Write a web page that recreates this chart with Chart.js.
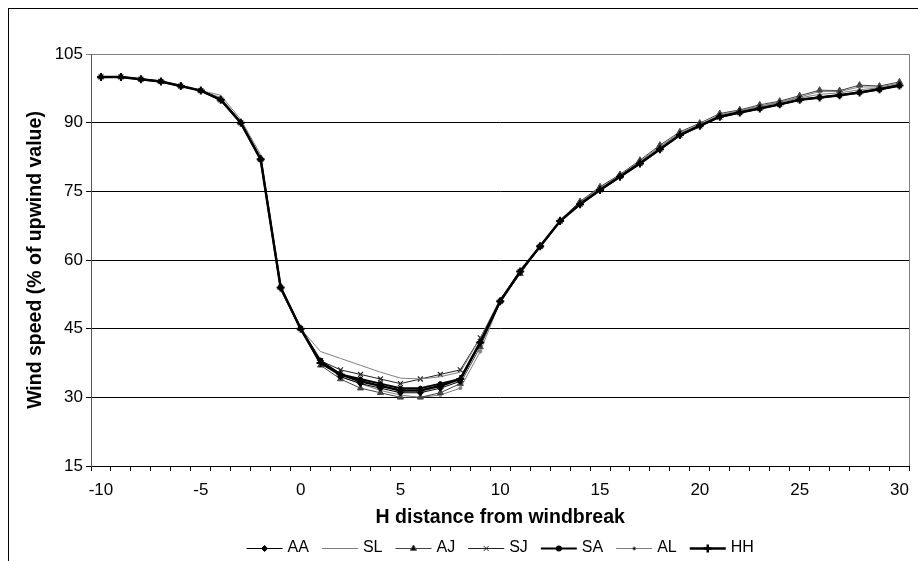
<!DOCTYPE html>
<html>
<head>
<meta charset="utf-8">
<script src="https://cdn.jsdelivr.net/npm/chart.js@4/dist/chart.umd.min.js"></script>
<style>
  html, body { margin: 0; padding: 0; background: #fff; }
  #wrap { width: 918px; height: 561px; position: relative; }
</style>
</head>
<body>
<div id="wrap"><canvas id="c" width="918" height="561"></canvas></div>
<script>
// ---- data ----
const distances = [-10,-9,-8,-7,-6,-5,-4,-3,-2,-1,0,1,2,3,4,5,6,7,8,9,10,11,12,13,14,15,16,17,18,19,20,21,22,23,24,25,26,27,28,29,30];
const seriesNames = ["AA","SL","AJ","SJ","SA","AL","HH"];
const yTicks = [15,30,45,60,75,90,105];
const xLabelEvery = 5;

const AA = [100,100,99.5,99,98,97,95,90,82,54,45, 38,34.5,33,32,31,31,32,33.5,42, 51,57.5,63,68.5,72.2,75.3,78.2,81.1,84.2,87.3,89.3,91.3,92.2,93.1,94,95,95.5,96,96.6,97.3,98.1];
const SL = [100,100,99.5,99,98,97,96,90.7,83,53.5,45, 40,38.5,37,35.5,34.2,34,34.5,35.5,43, 51.5,57,63,68.5,72.5,75.5,78.5,81.5,84.7,87.7,89.6,91.5,92.5,93.5,94.4,95.4,96.2,96.5,97.2,97.6,98.4];
const AJ = [100,100,99.5,99,98,97,95,90,82,54,45, 37,34,32,31,30,30,31,33,41, 51,57,63,68.7,72.8,76,78.7,81.8,85.1,88,89.9,92,92.8,93.9,94.7,95.9,97.1,97,98.2,98,98.9];
const SJ = [100,100,99.5,99,98,97,95,90,82,54,45, 38,36,35,34,33,34,35,36,43, 51,57.5,63,68.5,72.2,75.3,78.2,81.1,84.2,87.3,89.3,91.2,92.2,93.1,94,95,95.6,96,96.6,97.3,98.1];
const SA = [100,100,99.5,99,98,97,95,90,82,54,45, 38,35,34,33,32,32,33,34,42, 51,57.5,63,68.5,72.2,75.3,78.2,81.1,84.2,87.3,89.3,91.3,92.2,93.1,94,95,95.5,96,96.6,97.3,98.1];
const AL = [100,100,99.5,99,98,97,95.5,90.3,82.5,53.5,45, 37.5,34.5,33,31.5,30.5,30,30.5,32,40, 51,57,63,68.6,72.6,75.8,78.5,81.5,84.8,87.7,89.6,91.7,92.6,93.6,94.5,95.6,96.8,96.8,97.8,97.8,98.6];
const HH = [100,100,99.5,99,98,97,95,90,82,54,45, 37.5,35,33.5,32.5,31.5,31.5,32.5,34,42, 51,57.5,63,68.5,72.2,75.3,78.2,81.1,84.2,87.3,89.3,91.3,92.2,93.1,94,95,95.5,96,96.6,97.3,98.1];

const FONT = 'Arial, "Liberation Sans", sans-serif';
const GREY = '#808080';

const styles = {
  AA: {color:'#000', width:1, point:'rectRot', r:3, pw:1},
  SL: {color:GREY, width:1, point:false, r:0, pw:1},
  AJ: {color:'#444', width:1, point:'triangle', r:3.5, pw:1},
  SJ: {color:'#222', width:1, point:'crossRot', r:3.5, pw:1.2},
  SA: {color:'#000', width:2, point:'circle', r:2, pw:1},
  AL: {color:GREY, width:1, point:'circle', r:1.5, pw:1},
  HH: {color:'#000', width:2.5, point:'cross', r:4, pw:2}
};
const values = {AA, SL, AJ, SJ, SA, AL, HH};

const datasets = seriesNames.map(n => {
  const s = styles[n];
  return {
    label: n,
    data: values[n],
    borderColor: s.color,
    backgroundColor: s.color,
    borderWidth: s.width,
    pointStyle: s.point,
    pointRadius: s.r,
    pointBorderWidth: s.pw,
    pointBorderColor: s.color,
    pointBackgroundColor: s.color,
    tension: 0,
    fill: false,
    order: n === 'HH' ? 0 : (n === 'SA' ? 1 : 2)
  };
});

const framePlugin = {
  id: 'frame',
  beforeDraw(chart) {
    const ctx = chart.ctx;
    ctx.save();
    ctx.fillStyle = '#fff';
    ctx.fillRect(0, 0, chart.width, chart.height);
    ctx.strokeStyle = '#000';
    ctx.lineWidth = 1;
    ctx.strokeRect(8.5, 8.5, 1000, 1000);
    ctx.restore();
  },
  beforeDatasetsDraw(chart) {
    const {ctx, chartArea: a} = chart;
    ctx.save();
    ctx.strokeStyle = GREY;
    ctx.lineWidth = 1;
    ctx.beginPath();
    ctx.moveTo(Math.round(a.right) + 0.5, a.top);
    ctx.lineTo(Math.round(a.right) + 0.5, a.bottom);
    ctx.stroke();
    ctx.restore();
  },
  afterDraw(chart) {
    // legend: line sample with marker, then text
    const ctx = chart.ctx;
    ctx.save();
    ctx.font = '16px ' + FONT;
    ctx.textBaseline = 'middle';
    const lineLen = 36, gap = 5, itemGap = 13;
    const widths = seriesNames.map(n => ctx.measureText(n).width);
    let total = 0;
    seriesNames.forEach((n, i) => { total += lineLen + gap + widths[i] + (i < seriesNames.length - 1 ? itemGap : 0); });
    const cx = (chart.chartArea.left + chart.chartArea.right) / 2;
    let x = cx - total / 2;
    const y = 548;
    seriesNames.forEach((n, i) => {
      const s = styles[n];
      ctx.strokeStyle = s.color;
      ctx.lineWidth = s.width;
      ctx.beginPath();
      ctx.moveTo(x, y + 0.5);
      ctx.lineTo(x + lineLen, y + 0.5);
      ctx.stroke();
      if (s.point) {
        Chart.helpers.drawPoint(ctx, {
          pointStyle: s.point, radius: s.r, borderWidth: s.pw, rotation: 0
        }, x + lineLen / 2, y + 0.5);
        ctx.fillStyle = s.color; ctx.strokeStyle = s.color;
      }
      ctx.fillStyle = '#000';
      ctx.fillText(n, x + lineLen + gap, y);
      x += lineLen + gap + widths[i] + itemGap;
    });
    ctx.restore();
  }
};

// patch drawPoint colors for legend
const origDraw = Chart.helpers.drawPoint;

new Chart(document.getElementById('c'), {
  type: 'line',
  data: { labels: distances.map(String), datasets },
  options: {
    responsive: false,
    animation: false,
    devicePixelRatio: 1,
    layout: { padding: { left: 0, right: 3, top: 54, bottom: 0 } },
    plugins: { legend: { display: false }, tooltip: { enabled: false } },
    scales: {
      x: {
        type: 'category',
        offset: true,
        grid: { offset: true, drawOnChartArea: false, drawTicks: true, tickLength: 5, color: '#000', lineWidth: 1 },
        border: { color: '#000', width: 1 },
        ticks: {
          autoSkip: false, maxRotation: 0, minRotation: 0, padding: 9,
          color: '#000', font: { family: FONT, size: 17 },
          callback: function(val, idx) { const v = distances[idx]; return v % xLabelEvery === 0 ? String(v) : ''; }
        },
        title: { display: true, text: 'H distance from windbreak', color: '#000',
                 font: { family: FONT, size: 19.5, weight: 'bold' }, padding: { top: 0, bottom: 32 } },
        afterFit(scale) { scale.height = 95; }
      },
      y: {
        min: 15, max: 105,
        afterBuildTicks(scale) { scale.ticks = yTicks.map(v => ({ value: v })); },
        grid: { drawTicks: true, tickLength: 5, lineWidth: 1,
                color: ctx => (ctx.tick && ctx.tick.value === 105) ? GREY : '#000' },
        border: { color: '#555', width: 1 },
        ticks: { color: '#000', padding: 3, font: { family: FONT, size: 17 } },
        title: { display: true, text: 'Wind speed (% of upwind value)', color: '#000',
                 font: { family: FONT, size: 19.5, weight: 'bold' }, padding: { top: 24, bottom: 0 } },
        afterFit(scale) { scale.width = 91; }
      }
    }
  },
  plugins: [framePlugin]
});
</script>
</body>
</html>
